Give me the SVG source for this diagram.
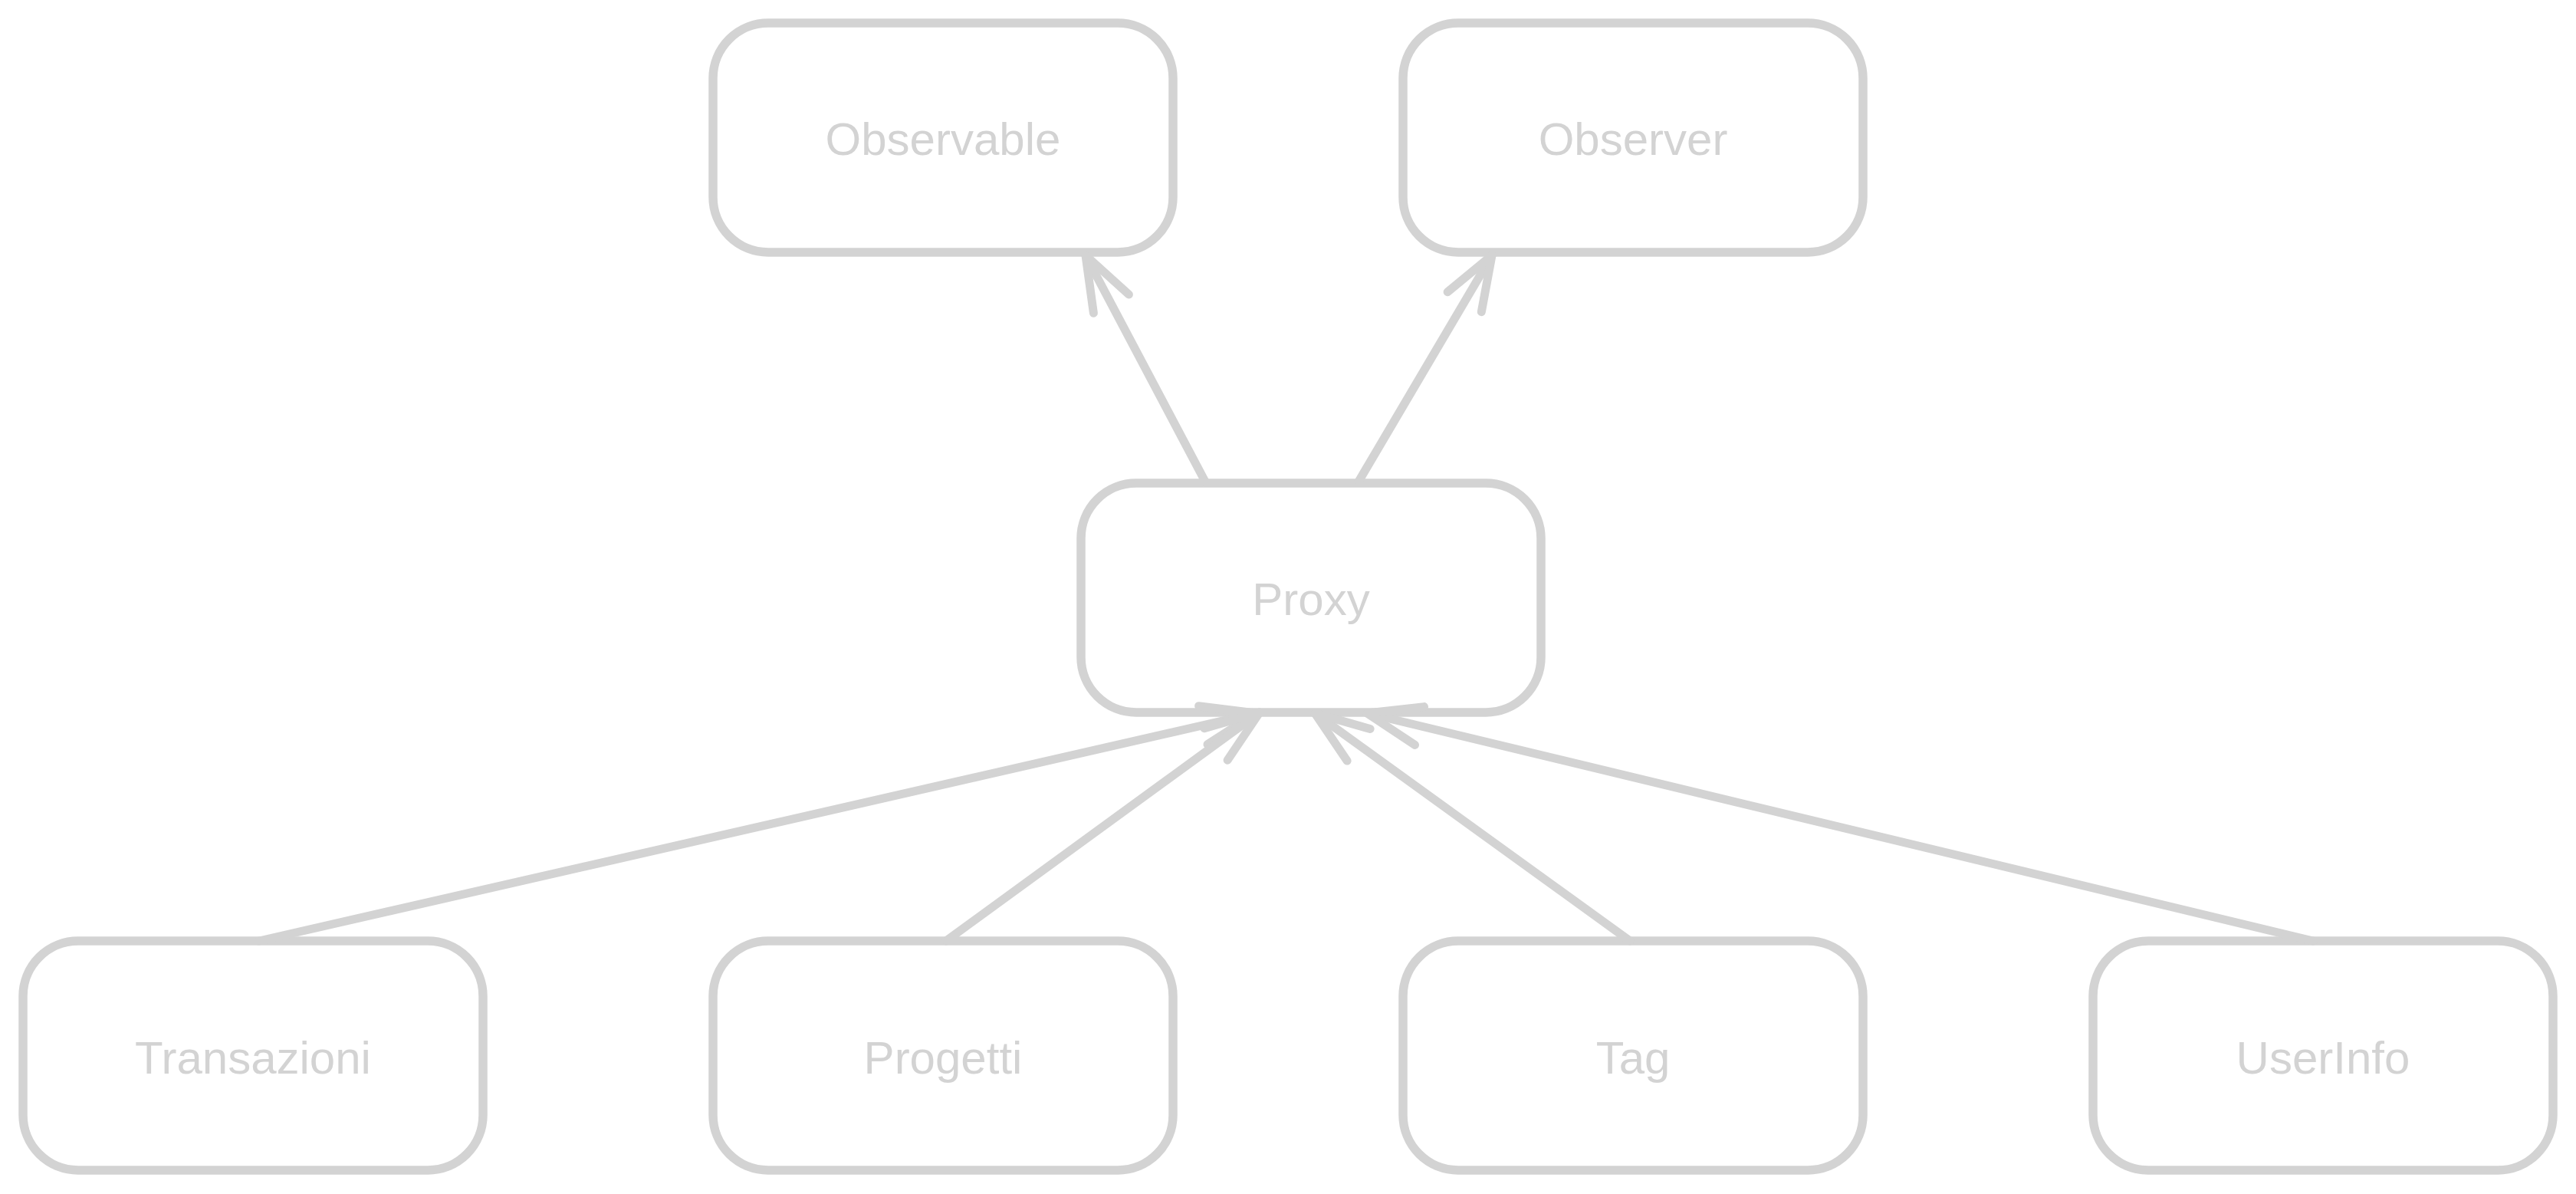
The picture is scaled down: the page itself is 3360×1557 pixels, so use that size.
<svg xmlns="http://www.w3.org/2000/svg" width="3360" height="1557" viewBox="0 0 3360 1557">
<style>
.box{fill:#ffffff;stroke:#d3d3d3;stroke-width:11.5}
.lbl{font-family:"Liberation Sans",Arial,Helvetica,sans-serif;font-size:60px;fill:#d3d3d3;text-anchor:middle}
.edge{fill:none;stroke:#d3d3d3;stroke-width:11;stroke-linecap:round;stroke-linejoin:round}
</style>
<rect width="3360" height="1557" fill="#ffffff"/>
<g id="node-observable"><rect class="box" x="930" y="30" width="600" height="299" rx="72" ry="72"/><text class="lbl" x="1230" y="202">Observable</text></g>
<g id="node-observer"><rect class="box" x="1830" y="30" width="600" height="299" rx="72" ry="72"/><text class="lbl" x="2130" y="202">Observer</text></g>
<g id="node-proxy"><rect class="box" x="1410" y="630" width="600" height="299" rx="72" ry="72"/><text class="lbl" x="1710" y="802">Proxy</text></g>
<g id="node-transazioni"><rect class="box" x="30" y="1227" width="600" height="299" rx="72" ry="72"/><text class="lbl" x="330" y="1400">Transazioni</text></g>
<g id="node-progetti"><rect class="box" x="930" y="1227" width="600" height="299" rx="72" ry="72"/><text class="lbl" x="1230" y="1400">Progetti</text></g>
<g id="node-tag"><rect class="box" x="1830" y="1227" width="600" height="299" rx="72" ry="72"/><text class="lbl" x="2130" y="1400">Tag</text></g>
<g id="node-userinfo"><rect class="box" x="2730" y="1227" width="600" height="299" rx="72" ry="72"/><text class="lbl" x="3030" y="1400">UserInfo</text></g>
<g id="connectors">
<path class="edge" d="M1572 628 L1416 333"/><path class="edge" d="M1426.4 408.3 L1416 333 L1472.4 384"/>
<path class="edge" d="M1772 628 L1946 333"/><path class="edge" d="M1888.1 380.7 L1946 333 L1932.3 406.7"/>
<path class="edge" d="M338 1227 L1638 930"/><path class="edge" d="M1563.6 920.7 L1638 930 L1575 970.7"/>
<path class="edge" d="M1234 1227 L1643 929"/><path class="edge" d="M1570.9 949.8 L1643 929 L1601.1 991.2"/>
<path class="edge" d="M2126 1227 L1715 930"/><path class="edge" d="M1757.1 992.1 L1715 930 L1787.1 950.5"/>
<path class="edge" d="M3017 1227 L1783 930"/><path class="edge" d="M1845.5 971.4 L1783 930 L1857.5 921.6"/>
</g>
</svg>
